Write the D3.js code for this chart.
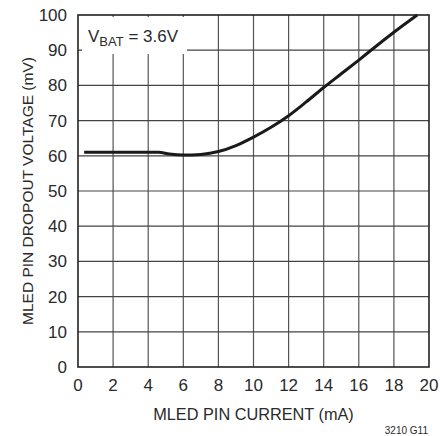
<!DOCTYPE html>
<html>
<head>
<meta charset="utf-8">
<script src="https://cdn.jsdelivr.net/npm/d3@7"></script>
<style>
  body { margin: 0; background: #fff; }
  text { font-family: "Liberation Sans Narrow", "Arial Narrow", "Liberation Sans", sans-serif; fill: #2a2a2a; }
</style>
</head>
<body>
<div id="chart"></div>
<script>
// curve
const currentMA = [0.35, 1, 2, 3, 4, 4.6, 5.2, 6, 7, 8, 9, 10, 11, 12, 13, 14, 15, 16, 17, 18, 19.33];
const dropoutMV = [61, 61, 61, 61, 61, 61, 60.5, 60.2, 60.4, 61.2, 62.9, 65.3, 68.1, 71.4, 75.3, 79.4, 83.3, 87.2, 91.2, 95.1, 100];

const xTicks = [0, 2, 4, 6, 8, 10, 12, 14, 16, 18, 20];
const yTicks = [0, 10, 20, 30, 40, 50, 60, 70, 80, 90, 100];

const width = 440;
const height = 436;
const margin = { top: 15, right: 11, bottom: 69, left: 78 };

const svg = d3.select("#chart")
  .append("svg")
  .attr("width", width)
  .attr("height", height);

const x = d3.scaleLinear()
  .domain([0, 20])
  .range([margin.left, width - margin.right]);

const y = d3.scaleLinear()
  .domain([0, 100])
  .range([height - margin.bottom, margin.top]);

// grid
svg.append("g")
  .selectAll("line")
  .data(xTicks.slice(1, -1))
  .enter()
  .append("line")
  .attr("x1", d => x(d)).attr("x2", d => x(d))
  .attr("y1", y(0)).attr("y2", y(100))
  .attr("stroke", "#555")
  .attr("stroke-width", 1.2);

svg.append("g")
  .selectAll("line")
  .data(yTicks.slice(1, -1))
  .enter()
  .append("line")
  .attr("x1", x(0)).attr("x2", x(20))
  .attr("y1", d => y(d)).attr("y2", d => y(d))
  .attr("stroke", "#444")
  .attr("stroke-width", 1.2);

// white box behind the label
svg.append("rect")
  .attr("x", x(0) + 4)
  .attr("y", y(100) + 2)
  .attr("width", 105)
  .attr("height", 37)
  .attr("fill", "#fff");

// frame
svg.append("rect")
  .attr("x", x(0)).attr("y", y(100))
  .attr("width", x(20) - x(0))
  .attr("height", y(0) - y(100))
  .attr("fill", "none")
  .attr("stroke", "#222")
  .attr("stroke-width", 1.6);

// tick labels
svg.append("g")
  .selectAll("text")
  .data(yTicks)
  .enter()
  .append("text")
  .attr("x", x(0) - 11)
  .attr("y", d => y(d) + 6)
  .attr("text-anchor", "end")
  .attr("font-size", 17)
  .text(d => d);

svg.append("g")
  .selectAll("text")
  .data(xTicks)
  .enter()
  .append("text")
  .attr("x", d => x(d))
  .attr("y", y(0) + 24)
  .attr("text-anchor", "middle")
  .attr("font-size", 17)
  .text(d => d);

// the curve
const line = d3.line()
  .x(d => x(d[0]))
  .y(d => y(d[1]))
  .curve(d3.curveMonotoneX);

svg.append("path")
  .datum(currentMA.map((c, i) => [c, dropoutMV[i]]))
  .attr("d", line)
  .attr("fill", "none")
  .attr("stroke", "#1a1a1a")
  .attr("stroke-width", 3);

// axis titles
svg.append("text")
  .attr("x", (x(0) + x(20)) / 2)
  .attr("y", 420)
  .attr("text-anchor", "middle")
  .attr("font-size", 16.3)
  .text("MLED PIN CURRENT (mA)");

svg.append("text")
  .attr("transform", `translate(33,${(y(0) + y(100)) / 2}) rotate(-90)`)
  .attr("text-anchor", "middle")
  .attr("font-size", 15.5)
  .text("MLED PIN DROPOUT VOLTAGE (mV)");

// condition label
const lbl = svg.append("text")
  .attr("x", 88)
  .attr("y", 42)
  .attr("font-size", 17);
lbl.append("tspan").text("V");
lbl.append("tspan").attr("font-size", 13).attr("dy", 4).text("BAT");
lbl.append("tspan").attr("dy", -4).text(" = 3.6V");

svg.append("text")
  .attr("x", 428)
  .attr("y", 434)
  .attr("text-anchor", "end")
  .attr("font-size", 10)
  .text("3210 G11");
</script>
</body>
</html>
